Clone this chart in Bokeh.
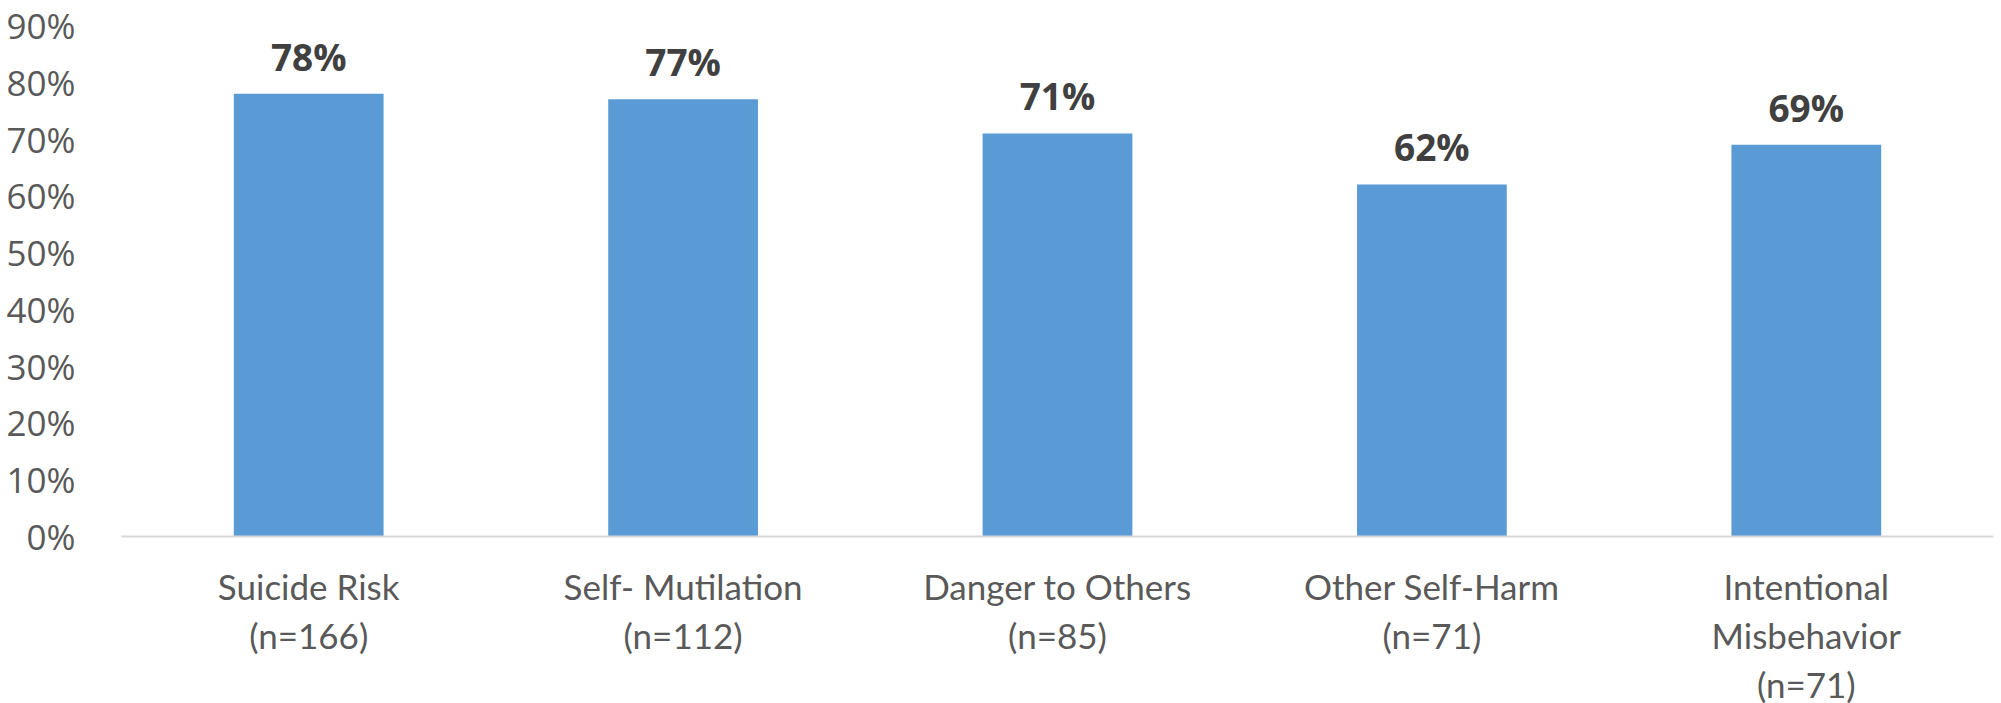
from bokeh.plotting import figure
from bokeh.models import ColumnDataSource, FactorRange, PrintfTickFormatter, FixedTicker, LabelSet
from bokeh.core.properties import value
from bokeh.embed import file_html
from bokeh.resources import INLINE

# Share of cases per reason category
categories = [
    "Suicide Risk\n(n=166)",
    "Self- Mutilation\n(n=112)",
    "Danger to Others\n(n=85)",
    "Other Self-Harm\n(n=71)",
    "Intentional\nMisbehavior\n(n=71)",
]
percent = [78, 77, 71, 62, 69]
y_ticks = [0, 10, 20, 30, 40, 50, 60, 70, 80, 90]

labels = [f"{v}%" for v in percent]
src = ColumnDataSource(dict(cat=categories, pct=percent, lab=labels))

p = figure(
    x_range=FactorRange(*categories, range_padding=0),
    y_range=(0, 90),
    frame_width=1872, frame_height=511,
    output_backend="svg", toolbar_location=None,
    min_border_left=121, min_border_right=8,
    min_border_top=25, min_border_bottom=167,
)
p.outline_line_color = None
p.background_fill_color = "white"
p.border_fill_color = "white"
p.xgrid.grid_line_color = None
p.ygrid.grid_line_color = None

p.vbar(x="cat", top="pct", width=0.4, source=src,
       fill_color="#5B9BD5", line_color="#5B9BD5", line_width=0)

# bold value labels above each bar
p.add_layout(LabelSet(x="cat", y="pct", text="lab", source=src,
                      text_align="center", text_baseline="alphabetic",
                      y_offset=23, text_font=value("Open Sans"), text_font_style="bold",
                      text_font_size="37px", text_color="#404040"))

# y axis: percent ticks, no line or tick marks
p.yaxis.ticker = FixedTicker(ticks=y_ticks)
p.yaxis.formatter = PrintfTickFormatter(format="%d%%")
p.yaxis.axis_line_color = None
p.yaxis.major_tick_line_color = None
p.yaxis.minor_tick_line_color = None
p.yaxis.major_label_text_font = "Open Sans"
p.yaxis.major_label_text_font_size = "35px"
p.yaxis.major_label_text_color = "#595959"
p.yaxis.major_label_standoff = 40

# x axis: category names under a light baseline
p.xaxis.axis_line_color = "#D9D9D9"
p.xaxis.axis_line_width = 2
p.xaxis.major_tick_line_color = None
p.xaxis.minor_tick_line_color = None
p.xaxis.major_label_text_font = "Lato"
p.xaxis.major_label_text_font_size = "35px"
p.xaxis.major_label_text_line_height = 1.17
p.xaxis.major_label_text_color = "#595959"
p.xaxis.major_label_standoff = 22
p.xaxis.major_label_orientation = "horizontal"

open("out.html", "w").write(file_html(p, INLINE))
